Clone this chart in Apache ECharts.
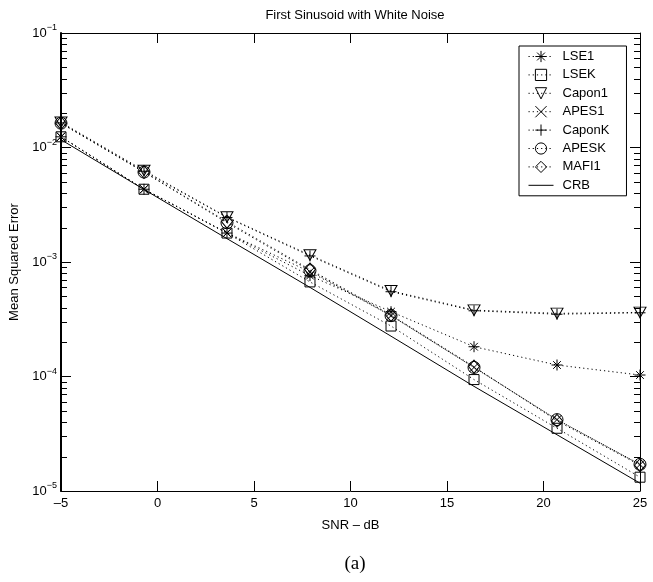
<!DOCTYPE html>
<html>
<head>
<meta charset="utf-8">
<script src="https://cdn.jsdelivr.net/npm/echarts@6/dist/echarts.min.js"></script>
<style>html,body{margin:0;padding:0;background:#fff;}#c{width:653px;height:582px;}</style>
</head>
<body>
<div id="c"></div>
<script>
// ---- data ----
const snr = [-5, -0.7, 3.6, 7.9, 12.1, 16.4, 20.7, 25];
const lse1   = [1.24e-2, 4.32e-3, 1.79e-3, 7.6e-4, 3.68e-4, 1.82e-4, 1.26e-4, 1.03e-4];
const lsek   = [1.24e-2, 4.32e-3, 1.79e-3, 6.7e-4, 2.76e-4, 9.4e-5, 3.53e-5, 1.32e-5];
const capon1 = [1.66e-2, 6.3e-3, 2.47e-3, 1.15e-3, 5.6e-4, 3.8e-4, 3.56e-4, 3.63e-4];
const apes1  = [1.24e-2, 4.32e-3, 1.8e-3, 8.2e-4, 3.4e-4, 1.2e-4, 4.2e-5, 1.7e-5];
const caponk = [1.64e-2, 6.2e-3, 2.45e-3, 1.13e-3, 5.5e-4, 3.75e-4, 3.5e-4, 3.6e-4];
const apesk  = [1.63e-2, 6.1e-3, 2.2e-3, 8.4e-4, 3.4e-4, 1.2e-4, 4.2e-5, 1.71e-5];
const mafi1  = [1.63e-2, 6.1e-3, 2.25e-3, 8.6e-4, 3.45e-4, 1.22e-4, 4.1e-5, 1.68e-5];
const crb    = [1.17e-2, 4.3e-3, 1.6e-3, 6.0e-4, 2.25e-4, 8.2e-5, 3.1e-5, 1.17e-5];
const seriesNames = ['LSE1', 'LSEK', 'Capon1', 'APES1', 'CaponK', 'APESK', 'MAFI1', 'CRB'];
const xTickLabels = ['–5', '0', '5', '10', '15', '20', '25'];
const yTickExponents = ['−5', '−4', '−3', '−2', '−1'];
const minorMantissas = [2, 3, 4, 5, 6, 7, 8, 9];
const minorDecades = [1e-5, 1e-4, 1e-3, 1e-2];

const XMIN = -5, XMAX = 25;
const FONT = 'Liberation Sans, Arial, Helvetica, sans-serif';

const SYM = {
  star: 'path://M5,0L5,10M0,5L10,5M1.5,1.5L8.5,8.5M8.5,1.5L1.5,8.5',
  tri: 'path://M0,0L10,0L5,8.7Z',
  cross: 'path://M0,0L10,10M10,0L0,10',
  plus: 'path://M5,0L5,10M0,5L10,5'
};

function pairs(arr) { return arr.map((v, i) => [snr[i], v]); }

function mkSeries(name, arr, symbol, size, dotted) {
  return {
    name: name,
    type: 'line',
    data: pairs(arr),
    symbol: symbol,
    symbolSize: size,
    showSymbol: symbol !== 'none',
    color: '#000',
    lineStyle: { color: '#000', width: 1, type: dotted ? [1.2, 3] : 'solid' },
    itemStyle: { color: 'transparent', borderColor: '#000', borderWidth: 1 },
    emphasis: { disabled: true },
    animation: false,
    z: 3
  };
}

const minorTicks = [];
minorDecades.forEach(d => minorMantissas.forEach(m => minorTicks.push([XMIN, m * d])));

const chart = echarts.init(document.getElementById('c'), null, { renderer: 'canvas' });

const yLabelFmt = function (v) {
  const e = Math.round(Math.log10(v));
  const idx = e + 5;
  return '{b|10}{s|' + yTickExponents[idx] + '}';
};

const legendData = seriesNames.map(n => n === 'CRB'
  ? { name: n, itemStyle: { color: 'transparent', borderColor: 'transparent', borderWidth: 0 } }
  : { name: n });

chart.setOption({
  animation: false,
  textStyle: { fontFamily: FONT },
  title: [
    { text: 'First Sinusoid with White Noise', left: 350, top: 4, textAlign: 'center',
      textStyle: { fontFamily: FONT, fontSize: 13, fontWeight: 'normal', color: '#000' } },
    { text: '(a)', left: 350, top: 550, textAlign: 'center',
      textStyle: { fontFamily: 'Liberation Serif, Times New Roman, serif', fontSize: 19, fontWeight: 'normal', color: '#000' } }
  ],
  grid: { left: 61, right: 13, top: 33, bottom: 91, containLabel: false },
  legend: {
    data: legendData,
    orient: 'vertical',
    left: 519, top: 46,
    itemWidth: 25, itemHeight: 14, itemGap: 5.4,
    padding: [4, 17, 4, 9],
    borderColor: '#000', borderWidth: 1, backgroundColor: '#fff',
    itemStyle: { color: 'transparent', borderColor: '#000', borderWidth: 1 },
    lineStyle: { width: 1 },
    textStyle: { fontFamily: FONT, fontSize: 13, color: '#000', padding: [0, 0, 0, 4] },
    selectedMode: false
  },
  xAxis: [
    { type: 'value', min: XMIN, max: XMAX, interval: 5, position: 'bottom',
      name: 'SNR – dB', nameLocation: 'middle', nameGap: 28,
      nameTextStyle: { fontFamily: FONT, fontSize: 13, color: '#000' },
      axisLine: { show: true, onZero: false, lineStyle: { color: '#000', width: 1 } },
      axisTick: { show: true, inside: true, length: 10, lineStyle: { color: '#000' } },
      axisLabel: { show: true, margin: 6, fontSize: 13, color: '#000', fontFamily: FONT,
        formatter: v => xTickLabels[Math.round((v - XMIN) / 5)] },
      splitLine: { show: false } },
    { type: 'value', min: XMIN, max: XMAX, interval: 5, position: 'top',
      axisLine: { show: true, onZero: false, lineStyle: { color: '#000', width: 1 } },
      axisTick: { show: true, inside: true, length: 10, lineStyle: { color: '#000' } },
      axisLabel: { show: false }, splitLine: { show: false } }
  ],
  yAxis: [
    { type: 'log', logBase: 10, min: 1e-5, max: 1e-1, position: 'left',
      name: 'Mean Squared Error', nameLocation: 'middle', nameGap: 32, nameRotate: 90,
      nameTextStyle: { fontFamily: FONT, fontSize: 13, color: '#000' },
      axisLine: { show: true, onZero: false, lineStyle: { color: '#000', width: 2 } },
      axisTick: { show: true, inside: true, length: 10, lineStyle: { color: '#000' } },
      axisLabel: { show: true, margin: 4, formatter: yLabelFmt,
        rich: { b: { fontSize: 13, color: '#000', fontFamily: FONT },
                s: { fontSize: 9, color: '#000', fontFamily: FONT, padding: [0, 0, 10, 0] } } },
      splitLine: { show: false } },
    { type: 'log', logBase: 10, min: 1e-5, max: 1e-1, position: 'right',
      axisLine: { show: true, onZero: false, lineStyle: { color: '#000', width: 1 } },
      axisTick: { show: true, inside: true, length: 10, lineStyle: { color: '#000' } },
      axisLabel: { show: false }, splitLine: { show: false } }
  ],
  series: [
    mkSeries('LSE1', lse1, SYM.star, 11, true),
    mkSeries('LSEK', lsek, 'rect', 10, true),
    mkSeries('Capon1', capon1, SYM.tri, [12, 10.5], true),
    mkSeries('APES1', apes1, SYM.cross, 9, true),
    mkSeries('CaponK', caponk, SYM.plus, 11, true),
    mkSeries('APESK', apesk, 'circle', 12, true),
    mkSeries('MAFI1', mafi1, 'diamond', [11, 13], true),
    mkSeries('CRB', crb, 'none', 0, false),
    {
      name: 'minorTicks', type: 'custom', silent: true, animation: false,
      data: minorTicks, clip: false, z: 2,
      renderItem: function (params, api) {
        const v = api.value(1);
        const pL = api.coord([XMIN, v]);
        const pR = api.coord([XMAX, v]);
        const st = { stroke: '#000', lineWidth: 1 };
        return { type: 'group', children: [
          { type: 'line', shape: { x1: pL[0], y1: Math.round(pL[1]) + 0.5, x2: pL[0] + 6, y2: Math.round(pL[1]) + 0.5 }, style: st },
          { type: 'line', shape: { x1: pR[0], y1: Math.round(pR[1]) + 0.5, x2: pR[0] - 6, y2: Math.round(pR[1]) + 0.5 }, style: st }
        ] };
      }
    }
  ]
});
</script>
</body>
</html>
